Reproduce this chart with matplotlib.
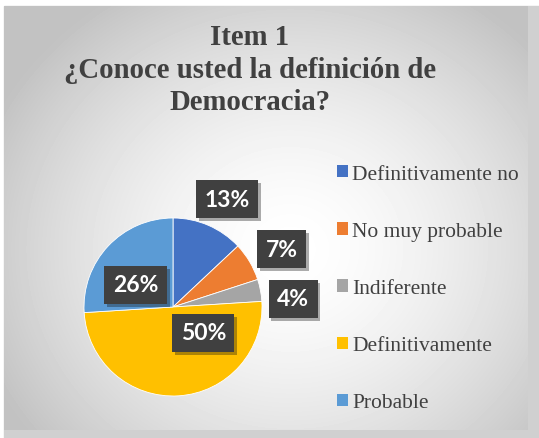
import numpy as np
import matplotlib
matplotlib.use('Agg')
import matplotlib.pyplot as plt
from matplotlib.patches import Rectangle
import matplotlib.patheffects as pe

categories = ['Definitivamente no', 'No muy probable', 'Indiferente', 'Definitivamente', 'Probable']
values = [13, 7, 4, 50, 26]
colors = ['#4472C4', '#ED7D31', '#A5A5A5', '#FFC000', '#5B9BD5']
# where Excel put the data labels (pie radius units)
label_pos = [(0.61, 1.21), (1.22, 0.65), (1.35, 0.09), (0.34, -0.29), (-0.42, 0.25)]

W, H = 539, 439
fig = plt.figure(figsize=(W / 100, H / 100), dpi=100)
fig.patch.set_facecolor('white')

# background with radial gradient
bg = fig.add_axes([0, 0, 1, 1])
bg.set_xlim(0, W)
bg.set_ylim(H, 0)
bg.axis('off')
bg.add_patch(Rectangle((4, 7), W - 4, H - 7, color='#d0d0d0', zorder=0))
yy, xx = np.mgrid[0:424, 0:524]
d = np.sqrt(((xx + 4 - 290) / 330.0) ** 2 + ((yy + 7 - 250) / 300.0) ** 2)
shade = np.clip(1.0 - 0.24 * d ** 1.6, 0.76, 1.0)
bg.imshow(shade, cmap='gray', vmin=0, vmax=1, extent=(4, 528, 431, 7), zorder=1)

fig.text(250 / W, 1 - 24 / H, 'Item 1\n¿Conoce usted la definición de\nDemocracia?',
         ha='center', va='top', fontsize=20.7, fontweight='bold', family='Liberation Serif',
         color='#404040', linespacing=1.27)

r = 89
cx, cy = 173, 308
ax = fig.add_axes([(cx - r) / W, (H - cy - r) / H, 2 * r / W, 2 * r / H])
wedges, _ = ax.pie(values, colors=colors, startangle=90, counterclock=False,
                   wedgeprops=dict(linewidth=0.6, edgecolor='white'))
ax.set_xlim(-1, 1)
ax.set_ylim(-1, 1)
ax.set_aspect('auto')
ax.axis('off')

for v, (x, y) in zip(values, label_pos):
    t = ax.text(x, y, f'{v}%', ha='center', va='center', fontsize=16.5, fontweight='bold',
                family='Lato', color='white', zorder=10, clip_on=False,
                bbox=dict(boxstyle='square,pad=0.37', fc='#404040', ec='none'))
    t.get_bbox_patch().set_path_effects([pe.SimplePatchShadow(offset=(2, -2), alpha=0.35), pe.Normal()])

leg = bg.legend(wedges, categories, loc='upper left', bbox_to_anchor=(337 / W, 1 - 166 / H),
                bbox_transform=fig.transFigure, frameon=False, prop={'family': 'Liberation Serif', 'size': 15.5},
                handlelength=0.5, handleheight=0.5, handletextpad=0.2, labelspacing=1.77,
                borderaxespad=0, borderpad=0)
for txt in leg.get_texts():
    txt.set_color('#404040')
for h in leg.legend_handles:
    h.set_edgecolor('none')

fig.savefig('out.png', dpi=100)
